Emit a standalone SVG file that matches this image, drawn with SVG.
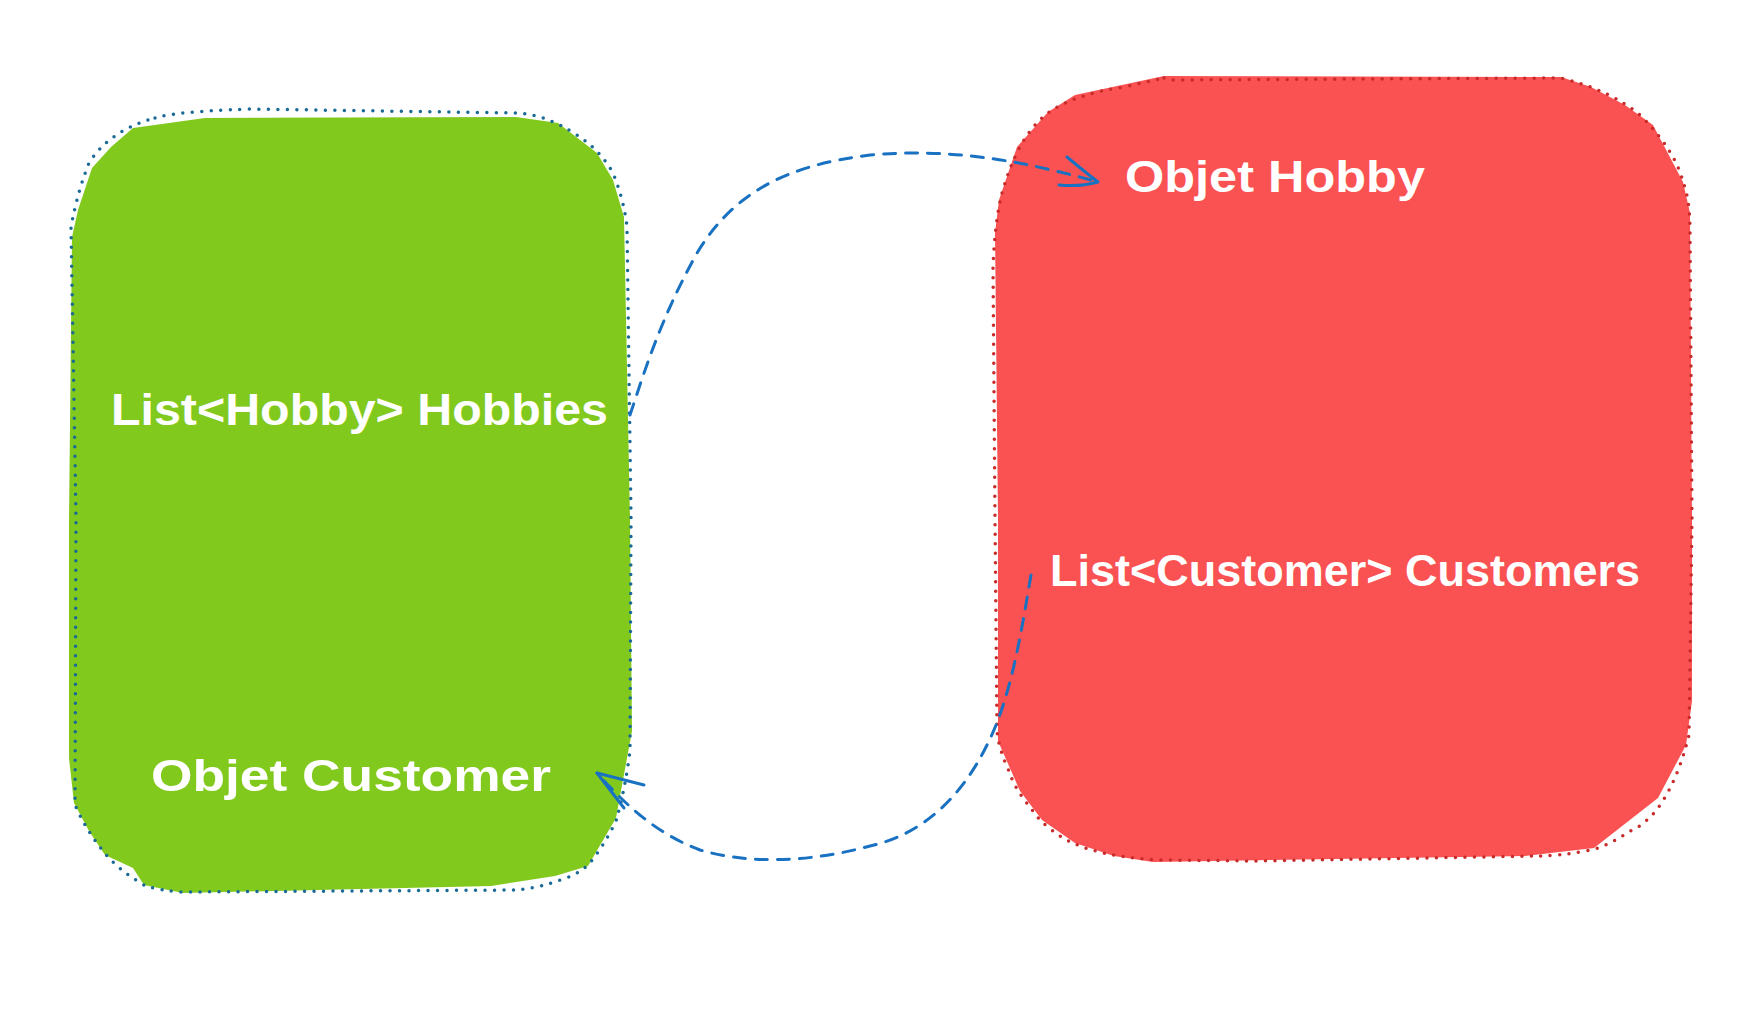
<svg xmlns="http://www.w3.org/2000/svg" width="1740" height="1036" viewBox="0 0 1740 1036">
<style>
.lbl{font-family:"Liberation Sans","DejaVu Sans",sans-serif;font-size:45px;font-weight:bold;fill:#ffffff;}
.dotb{fill:none;stroke:#1a6a96;stroke-width:3.5;stroke-linecap:round;stroke-dasharray:0 9.5;}
.dotr{fill:none;stroke:#c92a2a;stroke-width:3.5;stroke-linecap:round;stroke-dasharray:0 9.5;}
.conn{fill:none;stroke:#1971c2;stroke-width:3;stroke-linecap:round;stroke-dasharray:12 10;}
.head{fill:none;stroke:#1971c2;stroke-width:3;stroke-linecap:round;stroke-linejoin:round;}
</style>
<rect width="1740" height="1036" fill="#ffffff"/>
<g id="customer">
<path fill="#82c91e" d="M205,118 L516,117 L558,123 L597,153 L613,180 L624,217 L630,518 L632,731 L616,818 L588,866 L555,876 L491,886 L183,893 L144,885 L133,868 L105,855 L89,831 L74,803 L69,758 L69,518 L72,237 L78,210 L92,168 L111,147 L133,128 Z"/>
<path class="dotb" d="M155,118 Q170,112 250,109 L516,113 Q545,114 577,135 Q600,150 613,173 Q624,200 627,227 L631,518 L630,751 Q625,790 616,821 Q603,848 588,865 Q578,874 566,878 Q540,888 516,890 L183,892 Q160,891 144,885 Q118,870 103,851 Q86,830 75,805 L76,518 L71,227 Q78,190 89,163 Q110,130 155,118 Z"/>
<text class="lbl" x="111" y="425" textLength="497" lengthAdjust="spacingAndGlyphs">List&lt;Hobby&gt; Hobbies</text>
<text class="lbl" x="151" y="791" textLength="400" lengthAdjust="spacingAndGlyphs">Objet Customer</text>
</g>
<g id="hobby">
<path fill="#fa5252" d="M1164,76 L1561,77 L1591,87 L1625,105 L1653,125 L1683,182 L1690,213 L1692,518 L1692,701 L1686,745 L1658,798 L1594,848 L1525,856 L1153,862 L1114,856 L1075,843 L1042,820 L1020,791 L998,741 L998,518 L995,233 L999,200 L1017,147 L1048,112 L1075,95 Z"/>
<path class="dotr" d="M1164,78 L1170,80 L1561,78 Q1610,90 1640,115 Q1675,150 1683,182 Q1690,200 1690,230 L1692,518 L1689,735 Q1678,780 1658,808 Q1645,825 1630,831 Q1610,845 1591,850 Q1560,856 1536,856 L1258,861 L1159,860 Q1120,858 1092,850 Q1068,843 1053,831 Q1038,820 1031,808 Q1015,790 1009,771 Q999,750 997,731 L995,518 L993,267 Q995,220 1002,193 Q1010,165 1020,147 Q1032,125 1048,113 Q1062,103 1081,97 Q1100,90 1125,87 Q1145,82 1164,78 Z"/>
<text class="lbl" x="1125" y="192" textLength="300" lengthAdjust="spacingAndGlyphs">Objet Hobby</text>
<text class="lbl" x="1050" y="586" textLength="590" lengthAdjust="spacingAndGlyphs">List&lt;Customer&gt; Customers</text>
</g>
<g id="connectors">
<path class="conn" d="M630,415 C645,370 660,320 697,253 C735,190 790,165 870,155 C950,148 1020,160 1098,182"/>
<path class="head" d="M1067,157 Q1085,172 1098,182 Q1080,187 1059,185"/>
<path class="conn" d="M1031,575 C1020,640 1010,700 987,745 C960,800 920,835 870,846 C800,865 740,862 700,850 C660,835 630,810 597,773"/>
<path class="head" d="M644,785 L597,773 L624,808"/>
</g>
</svg>
